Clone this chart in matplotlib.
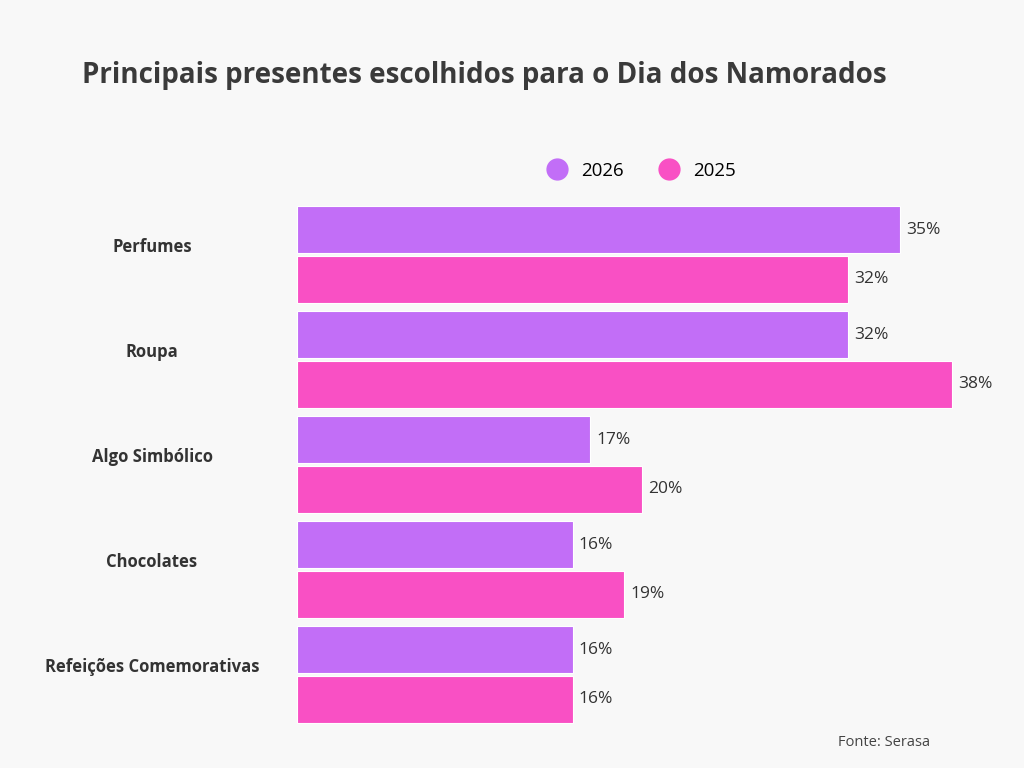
import numpy as np
import matplotlib
matplotlib.use("Agg")
import matplotlib.pyplot as plt
from matplotlib.lines import Line2D

plt.rcParams["font.family"] = ["Open Sans", "DejaVu Sans"]

categories = ["Perfumes", "Roupa", "Algo Simbólico", "Chocolates", "Refeições Comemorativas"]
values_2026 = [35, 32, 17, 16, 16]
values_2025 = [32, 38, 20, 19, 16]
series_names = ["2026", "2025"]
colors = ["#C26EF7", "#F950C4"]

fig = plt.figure(figsize=(10.24, 7.68), dpi=100)
fig.patch.set_facecolor("#F8F8F8")
ax = fig.add_axes([297 / 1024, 41 / 768, 703 / 1024, 525 / 768])
ax.set_facecolor("#F8F8F8")

y = np.arange(len(categories))
off, h = 0.235, 0.445
for vals, dy, c in [(values_2026, -off, colors[0]), (values_2025, off, colors[1])]:
    ax.barh(y + dy, vals, height=h, color=c, edgecolor="white", linewidth=0.8)
    for yi, v in zip(y, vals):
        ax.text(v + 0.35, yi + dy, f"{v}%", va="center", ha="left",
                fontsize=12.5, color="#333333")

ax.set_xlim(0, 40.8)
ax.set_ylim(len(categories) - 0.5, -0.5)
ax.set_xticks([])
ax.set_yticks([])
for s in ax.spines.values():
    s.set_visible(False)

for yi, cat in zip(y, categories):
    fig.text(152 / 1024, 1 - (207 + 105 * yi + 40) / 768, cat, ha="center", va="center",
             fontsize=12, fontweight="bold", color="#333333")

fig.text(82 / 1024, 1 - 76 / 768, "Principais presentes escolhidos para o Dia dos Namorados",
         fontsize=20, fontweight="bold", color="#3a3a3a", va="center")

handles = [Line2D([], [], marker="o", linestyle="", markersize=15, color=c) for c in colors]
fig.legend(handles, series_names, loc="center", bbox_to_anchor=(637 / 1024, 1 - 171 / 768),
           ncol=2, frameon=False, fontsize=13.5, handletextpad=0.3, columnspacing=1.4)

fig.text(930 / 1024, 1 - 743 / 768, "Fonte: Serasa", ha="right", va="center",
         fontsize=10.5, color="#444444")

fig.savefig("out.png", dpi=100, facecolor=fig.get_facecolor())
